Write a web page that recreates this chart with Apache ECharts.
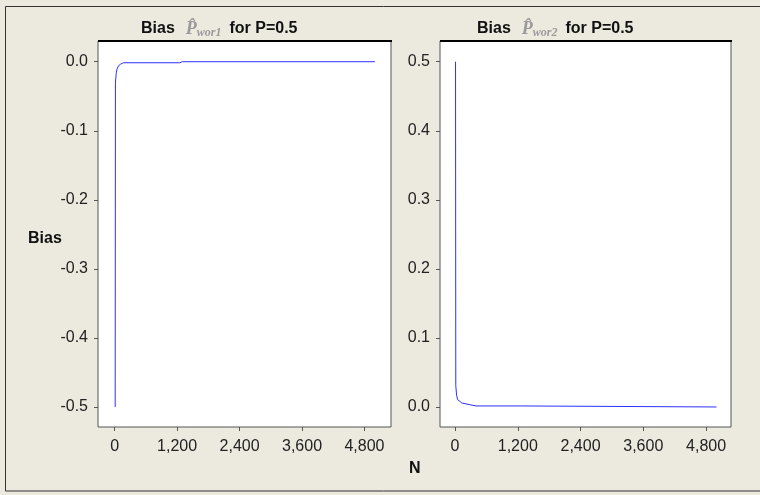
<!DOCTYPE html>
<html>
<head>
<meta charset="utf-8">
<script src="https://cdn.jsdelivr.net/npm/echarts@6/dist/echarts.min.js"></script>
<style>
  html, body { margin: 0; padding: 0; background: #ece9df; }
  #chart { width: 760px; height: 495px; }
</style>
</head>
<body>
<div id="chart"></div>
<script>
// bias of P-hat wor1 (left) and wor2 (right) against N
const nLeft = [10, 15, 25, 30, 45, 75, 115, 170, 1250, 1300, 5000]
const biasLeft = [-0.5, -0.031, -0.029, -0.017, -0.0107, -0.0058, -0.0035, -0.0015, -0.0015, 0, 0]
const nRight = [10, 15, 25, 30, 50, 130, 270, 400, 1270, 1300, 5000]
const biasRight = [0.5, 0.031, 0.029, 0.017, 0.0107, 0.0058, 0.0035, 0.0015, 0.0015, 0, 0]

const xTicks = [0, 1200, 2400, 3600, 4800]
const yTicksLeft = [-0.5, -0.4, -0.3, -0.2, -0.1, 0]
const yTicksRight = [0, 0.1, 0.2, 0.3, 0.4, 0.5]

const font = 'Liberation Sans'
const lineColor = '#2f2fff'

const pairs = (xs, ys) => xs.map((x, i) => [x, ys[i]])

function xAxis(grid, min, max) {
  return {
    type: 'value', gridIndex: grid, min: min, max: max,
    axisLine: { show: false, onZero: false },
    splitLine: { show: false },
    axisTick: { customValues: xTicks, length: 4, lineStyle: { color: '#555' } },
    axisLabel: {
      customValues: xTicks, margin: 12,
      fontFamily: font, fontSize: 16, color: '#222',
      formatter: v => v.toLocaleString('en-US')
    }
  }
}

function yAxis(grid, min, max, ticks) {
  return {
    type: 'value', gridIndex: grid, min: min, max: max,
    axisLine: { show: false, onZero: false },
    splitLine: { show: false },
    axisTick: { customValues: ticks, length: 4, lineStyle: { color: '#555' } },
    axisLabel: {
      customValues: ticks, margin: 10,
      fontFamily: font, fontSize: 16, color: '#222',
      formatter: v => v.toFixed(1)
    }
  }
}

const titleRich = {
  b: { fontFamily: font, fontWeight: 'bold', fontSize: 16, color: '#111' },
  p: { fontFamily: 'Liberation Serif', fontStyle: 'italic', fontSize: 18, color: '#9a9a9a', padding: [0, 0, 0, 6] },
  s: { fontFamily: 'Liberation Serif', fontStyle: 'italic', fontSize: 12, color: '#9a9a9a', verticalAlign: 'bottom', padding: [8, 8, 0, 0] }
}

const chart = echarts.init(document.getElementById('chart'))
chart.setOption({
  animation: false,
  backgroundColor: '#ece9df',
  title: [
    { left: 141, top: 19, padding: 0, text: '{b|Bias} {p|P\u0302}{s|wor1}{b|for P=0.5}', textStyle: { rich: titleRich } },
    { left: 477, top: 19, padding: 0, text: '{b|Bias} {p|P\u0302}{s|wor2}{b|for P=0.5}', textStyle: { rich: titleRich } }
  ],
  grid: [
    { left: 98, top: 41, width: 293, height: 386, show: true, backgroundColor: '#fff', borderColor: '#555', borderWidth: 1 },
    { left: 440, top: 41, width: 291, height: 386, show: true, backgroundColor: '#fff', borderColor: '#555', borderWidth: 1 }
  ],
  xAxis: [xAxis(0, -320, 5310), xAxis(1, -287, 5277)],
  yAxis: [yAxis(0, -0.529, 0.03, yTicksLeft), yAxis(1, -0.029, 0.53, yTicksRight)],
  graphic: [
    { type: 'rect', silent: true, shape: { x: 5.5, y: 6.5, width: 800, height: 484.5 }, style: { fill: null, stroke: '#333', lineWidth: 1 } },
    { type: 'line', silent: true, shape: { x1: 98, y1: 41, x2: 392, y2: 41 }, style: { stroke: '#000', lineWidth: 2 } },
    { type: 'line', silent: true, shape: { x1: 440, y1: 41, x2: 732, y2: 41 }, style: { stroke: '#000', lineWidth: 2 } },
    { type: 'text', left: 28, top: 231, style: { text: 'Bias', fontFamily: font, fontWeight: 'bold', fontSize: 16, fill: '#111' } },
    { type: 'text', left: 409, top: 461, style: { text: 'N', fontFamily: font, fontWeight: 'bold', fontSize: 16, fill: '#111' } }
  ],
  series: [
    { type: 'line', xAxisIndex: 0, yAxisIndex: 0, showSymbol: false, data: pairs(nLeft, biasLeft), lineStyle: { color: lineColor, width: 1 } },
    { type: 'line', xAxisIndex: 1, yAxisIndex: 1, showSymbol: false, data: pairs(nRight, biasRight), lineStyle: { color: lineColor, width: 1 } }
  ]
})
</script>
</body>
</html>
